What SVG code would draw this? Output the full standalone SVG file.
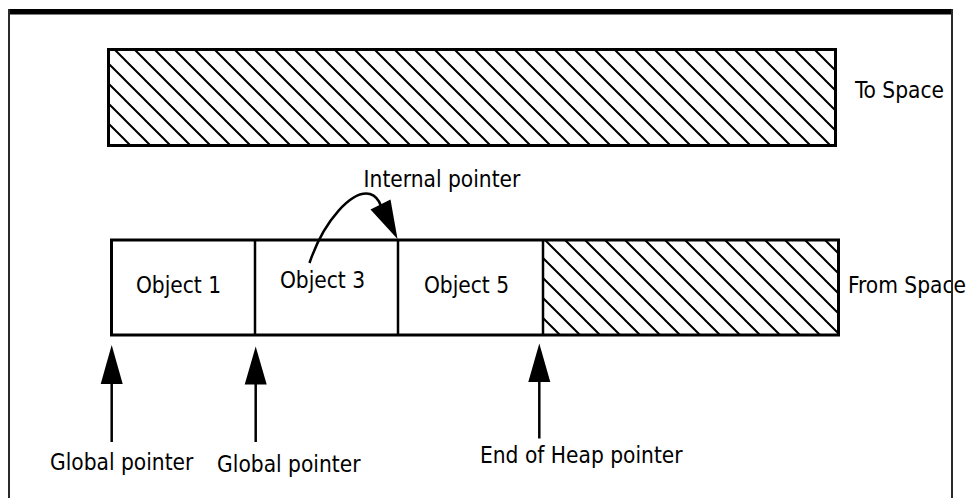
<svg xmlns="http://www.w3.org/2000/svg" width="977" height="498" viewBox="0 0 977 498">
  <style>
    .lbl { font-family: "DejaVu Sans Condensed", "DejaVu Sans", "Liberation Sans", sans-serif; font-stretch: condensed; font-size: 22.5px; fill: #000; }
    .mid { text-anchor: middle; }
    .box { fill: none; stroke: #000; stroke-width: 3; }
    .hatch { fill: url(#diag); stroke: none; }
    .div { stroke: #000; stroke-width: 2.5; }
    .wire { fill: none; stroke: #000; stroke-width: 2.5; }
    .head { fill: #000; stroke: none; }
    .frame { stroke: #2a2a2a; stroke-width: 2; fill: none; }
  </style>
  <defs>
    <!-- back-slash hatching at 45 degrees, 20px apart -->
    <pattern id="diag" patternUnits="userSpaceOnUse" x="5" y="0" width="20" height="20">
      <path d="M-5,-5 L25,25 M-25,-5 L5,25 M15,-5 L45,25" stroke="#000" stroke-width="2" fill="none"/>
    </pattern>
  </defs>

  <!-- page frame -->
  <g id="frame">
    <rect x="8" y="9" width="945" height="5.5" fill="#000"/>
  </g>

  <!-- to-space: a fully hatched semispace -->
  <g id="to-space">
    <rect class="hatch" x="108.5" y="49.5" width="727" height="96"/>
    <rect class="box" x="108.5" y="49.5" width="727" height="96"/>
    <text class="lbl" x="855" y="98">To Space</text>
  </g>

  <!-- from-space: live objects followed by free space -->
  <g id="from-space">
    <rect class="hatch" x="543" y="240" width="295.5" height="95"/>
    <rect class="box" x="111.5" y="240" width="727" height="95"/>
    <text class="lbl" x="848" y="293">From Space</text>
  </g>
  <g id="object-1">
    <text class="lbl mid" x="178.5" y="293">Object 1</text>
  </g>
  <g id="object-3">
    <line class="div" x1="255" y1="240" x2="255" y2="335"/>
    <text class="lbl mid" x="322.5" y="288">Object 3</text>
  </g>
  <g id="object-5">
    <line class="div" x1="398" y1="240" x2="398" y2="335" stroke-width="3"/>
    <text class="lbl mid" x="466.5" y="293">Object 5</text>
  </g>
  <g id="free-boundary">
    <line class="div" x1="543" y1="240" x2="543" y2="335"/>
  </g>

  <!-- pointer labels -->
  <g id="internal-pointer">
    <text class="lbl mid" x="442" y="187">Internal pointer</text>
  </g>
  <g id="global-pointer-1">
    <text class="lbl mid" x="121.7" y="470">Global pointer</text>
  </g>
  <g id="global-pointer-2">
    <text class="lbl mid" x="288.8" y="471.5">Global pointer</text>
  </g>
  <g id="end-of-heap">
    <text class="lbl mid" x="581.3" y="462.5">End of Heap pointer</text>
  </g>

  <!-- connectors -->
  <g id="connectors">
    <path class="wire" d="M309.5,263 C324,220 352,190 370,194 C376,196 379,200 381,206"/>
    <polygon class="head" points="370.5,209.5 390.5,199.5 397.5,239"/>

    <line class="wire" x1="111.7" y1="442" x2="111.7" y2="380"/>
    <polygon class="head" points="100.7,384 122.7,384 111.7,345"/>

    <line class="wire" x1="255.7" y1="442" x2="255.7" y2="380"/>
    <polygon class="head" points="244.7,384.5 266.7,384.5 255.7,346.5"/>

    <line class="wire" x1="539.3" y1="438.5" x2="539.3" y2="378"/>
    <polygon class="head" points="528.3,382 550.3,382 539.3,343.5"/>
  </g>

  <!-- frame sides drawn last, over the labels -->
  <g id="frame-sides">
    <line class="frame" x1="9" y1="9" x2="9" y2="498"/>
    <line class="frame" x1="952" y1="9" x2="952" y2="498"/>
  </g>
</svg>
